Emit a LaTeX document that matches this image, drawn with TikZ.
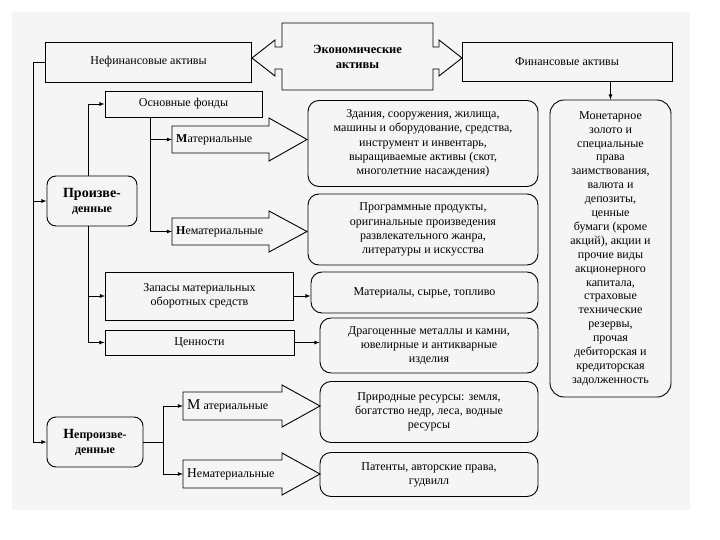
\documentclass[tikz,border=0pt]{standalone}
\usepackage{fontspec}
\setmainfont{Liberation Serif}
\usetikzlibrary{arrows}

% fat arrow with text: left x, head base x, top y, bottom y, head extend, tip x
\newcommand{\fatarrow}[6]{%
  \draw[line width=0.9pt] (#1,#3) -- (#2,#3) -- (#2,#3-#5) -- (#6,{(#3+#4)/2})
    -- (#2,#4+#5) -- (#2,#4) -- (#1,#4) -- cycle;}

\begin{document}
\begin{tikzpicture}[x=1pt,y=-1pt,
  box/.style={draw, line width=0.9pt, inner sep=2pt, align=center,
    font=\fontsize{12}{14.2}\selectfont},
  rbox/.style={box, rounded corners=11pt},
  tag/.style={anchor=west, inner xsep=4pt, inner ysep=0pt,
    font=\fontsize{12}{14}\selectfont},
  conn/.style={line width=0.8pt, -latex},
  link/.style={line width=0.8pt}]

\useasboundingbox (0,0) rectangle (720,540);
\fill[black!4] (12,12) rectangle (690,510); % background

% top row
\node[box, draw=none, minimum width=151pt, minimum height=67pt,
  font=\bfseries\fontsize{12.5}{15}\selectfont] (eko) at (357.5,56.5) {Экономические\\ активы};
\draw[line width=0.9pt] (282,23) -- (433,23) -- (433,47) -- (439,47) -- (439,40) -- (462,58)
  -- (439,76) -- (439,69) -- (433,69) -- (433,90) -- (282,90) -- (282,69) -- (275,69)
  -- (275,76) -- (252,58) -- (275,40) -- (275,47) -- (282,47) -- cycle; % double arrow
\node[box, minimum width=206pt, minimum height=40pt] (nefin) at (148.5,62) {Нефинансовые активы};
\node[box, minimum width=210pt, minimum height=39pt] (fin) at (567,61.5) {Финансовые активы};

% financial assets
\node[rbox, rounded corners=14pt, minimum width=121pt, minimum height=297pt,
  font=\fontsize{12}{13.9}\selectfont] (mon) at (610.5,248.5)
  {Монетарное\\ золото и\\ специальные\\ права\\ заимствования,\\ валюта и\\ депозиты,\\ ценные\\
   бумаги (кроме\\ акций), акции и\\ прочие виды\\ акционерного\\ капитала,\\ страховые\\
   технические\\ резервы,\\ прочая\\ дебиторская и\\ кредиторская\\ задолженность};

% produced assets
\node[rbox, rounded corners=9pt, minimum width=90pt, minimum height=50pt,
  font=\bfseries\fontsize{12}{15}\selectfont] (proizv) at (92,201)
  {{\fontsize{14}{15}\selectfont Произве-}\\ денные};
\node[box, minimum width=157pt, minimum height=26pt] (osn) at (183.5,104) {Основные фонды};
\node[box, minimum width=188pt, minimum height=48pt] (zap) at (199.5,296) {Запасы материальных\\ оборотных средств};
\node[box, minimum width=189pt, minimum height=25pt] (cen) at (199.5,342.5) {Ценности};

\fatarrow{172}{269}{126}{153}{8}{307}
\node[tag] (matA) at (172,139.5) {\textbf{М}атериальные};
\fatarrow{172}{269}{218}{245}{7}{307}
\node[tag] (nmatA) at (172,231.5) {\textbf{Н}ематериальные};

\node[rbox, minimum width=230pt, minimum height=86pt] (zdan) at (423,143.5)
  {Здания, сооружения, жилища,\\ машины и оборудование, средства,\\ инструмент и инвентарь,\\
   выращиваемые активы (скот,\\ многолетние насаждения)};
\node[rbox, minimum width=230pt, minimum height=71pt] (prog) at (423,229.5)
  {Программные продукты,\\ оригинальные произведения\\ развлекательного жанра,\\ литературы и искусства};
\node[rbox, minimum width=227pt, minimum height=41pt] (mat) at (424.5,292.5) {Материалы, сырье, топливо};
\node[rbox, minimum width=218pt, minimum height=55pt] (drag) at (429,345.5)
  {Драгоценные металлы и камни,\\ ювелирные и антикварные\\ изделия};

% non-produced assets
\node[rbox, rounded corners=9pt, minimum width=96pt, minimum height=50pt,
  font=\bfseries\fontsize{12}{15}\selectfont] (neproizv) at (95,442)
  {{\fontsize{14}{15}\selectfont Н}епроизве-\\ денные};

\fatarrow{183}{282}{392}{420}{7}{320}
\node[tag] (matB) at (183,406) {{\fontsize{15}{15}\selectfont М} атериальные};
\fatarrow{183}{282}{460}{488}{7}{320}
\node[tag] (nmatB) at (183,474) {{\fontsize{13.5}{14}\selectfont Н}ематериальные};

\node[rbox, minimum width=218pt, minimum height=61pt] (prir) at (429,412)
  {Природные ресурсы: земля,\\ богатство недр, леса, водные\\ ресурсы};
\node[rbox, minimum width=218pt, minimum height=44pt] (pat) at (429,474.5)
  {Патенты, авторские права,\\ гудвилл};

% connectors
\draw[link] (nefin.west) -- ++(-12,0) coordinate (lft);
\draw[conn] (lft) |- (proizv.west);
\draw[conn] (lft) |- (neproizv.west);
\draw[conn] ([xshift=-4pt]proizv.north) |- (osn.west);
\draw[conn] ([xshift=-4pt]proizv.south) |- (zap.west);
\draw[conn] ([xshift=-4pt]proizv.south) |- (cen.west);
\draw[conn] ([xshift=-33.5pt]osn.south) |- (matA.west);
\draw[conn] ([xshift=-33.5pt]osn.south) |- (nmatA.west);
\draw[conn] (zap.east) -- (zap.east -| mat.west);
\draw[conn] (cen.east) -- (cen.east -| drag.west);
\draw[conn] (fin.south -| mon.north) -- (mon.north);
\draw[link] (neproizv.east) -- ++(20,0) coordinate (nb);
\draw[conn] (nb) |- (matB.west);
\draw[conn] (nb) |- (nmatB.west);
\end{tikzpicture}
\end{document}
